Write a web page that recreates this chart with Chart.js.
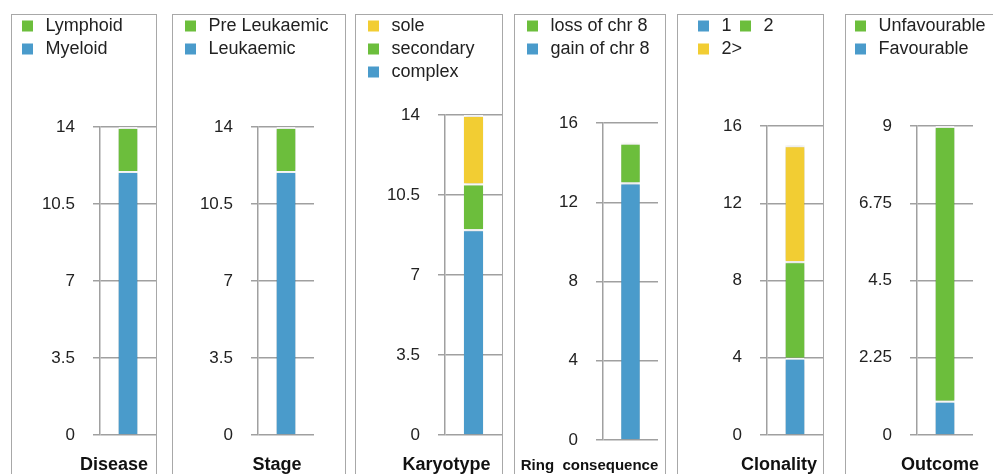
<!DOCTYPE html>
<html><head><meta charset="utf-8">
<script src="https://cdn.jsdelivr.net/npm/chart.js@4.4.1/dist/chart.umd.min.js"></script>
<style>
html,body{margin:0;padding:0;background:#fff;overflow:hidden;width:993px;height:474px;}
.panel{position:absolute;top:14px;height:480px;border:1.5px solid #a8a8a8;box-sizing:border-box;}
canvas{position:absolute;top:0;}
</style></head><body>
<script>
// ---------- data ----------
const diseaseCategories = ['Disease'];
const diseaseSeries = ['Myeloid', 'Lymphoid'];
const diseaseMyeloid = [12];
const diseaseLymphoid = [2];

const stageCategories = ['Stage'];
const stageSeries = ['Leukaemic', 'Pre Leukaemic'];
const stageLeukaemic = [12];
const stagePreLeukaemic = [2];

const karyotypeCategories = ['Karyotype'];
const karyotypeSeries = ['complex', 'secondary', 'sole'];
const karyotypeComplex = [9];
const karyotypeSecondary = [2];
const karyotypeSole = [3];

const ringCategories = ['Ring  consequence'];
const ringSeries = ['gain of chr 8', 'loss of chr 8'];
const ringGain = [13];
const ringLoss = [2];

const clonalityCategories = ['Clonality'];
const clonalitySeries = ['1', '2', '2>'];
const clonality1 = [4];
const clonality2 = [5];
const clonalityMore = [6];

const outcomeCategories = ['Outcome'];
const outcomeSeries = ['Favourable', 'Unfavourable'];
const outcomeFavourable = [1];
const outcomeUnfavourable = [8];

const ticks14 = [0, 3.5, 7, 10.5, 14];
const ticks14Labels = ['0', '3.5', '7', '10.5', '14'];
const ticks16 = [0, 4, 8, 12, 16];
const ticks16Labels = ['0', '4', '8', '12', '16'];
const ticks9 = [0, 2.25, 4.5, 6.75, 9];
const ticks9Labels = ['0', '2.25', '4.5', '6.75', '9'];

// ---------- style ----------
const GREEN = '#6cbe3c', BLUE = '#4a9bcb', YELLOW = '#f2cd33';
const FONT = "'Liberation Sans', Arial, Helvetica, sans-serif";
const GRID = '#a0a0a0';

const panels = [
  {cats: diseaseCategories, names: diseaseSeries, values: [diseaseMyeloid, diseaseLymphoid], colors: [BLUE, GREEN], reverse: true,
   ticks: ticks14, tickLabels: ticks14Labels,
   Lp: 11, Rp: 156, axisX: 100, plotR: 156, top: 127, bottom: 435, rows: 2, padL: 2.5, off: -14, tsize: 18, T: 19},
  {cats: stageCategories, names: stageSeries, values: [stageLeukaemic, stagePreLeukaemic], colors: [BLUE, GREEN], reverse: true,
   ticks: ticks14, tickLabels: ticks14Labels,
   Lp: 172, Rp: 345, axisX: 258, plotR: 314, top: 127, bottom: 435, rows: 2, padL: 4.5, off: -9, tsize: 18, T: 19},
  {cats: karyotypeCategories, names: karyotypeSeries, values: [karyotypeComplex, karyotypeSecondary, karyotypeSole], colors: [BLUE, GREEN, YELLOW], reverse: true,
   ticks: ticks14, tickLabels: ticks14Labels,
   Lp: 355, Rp: 502, axisX: 445, plotR: 502, top: 115, bottom: 435, rows: 3, padL: 4.5, off: -27, tsize: 18, T: 19},
  {cats: ringCategories, names: ringSeries, values: [ringGain, ringLoss], colors: [BLUE, GREEN], reverse: true,
   ticks: ticks16, tickLabels: ticks16Labels,
   Lp: 514, Rp: 665, axisX: 603, plotR: 658, top: 123, bottom: 440, rows: 2, padL: 4.5, off: -41, tsize: 15, T: 17},
  {cats: clonalityCategories, names: clonalitySeries, values: [clonality1, clonality2, clonalityMore], colors: [BLUE, GREEN, YELLOW], reverse: false,
   ticks: ticks16, tickLabels: ticks16Labels,
   Lp: 677, Rp: 823, axisX: 767, plotR: 823, top: 126, bottom: 435, rows: 2, padL: 12.5, off: -16, tsize: 18, T: 19},
  {cats: outcomeCategories, names: outcomeSeries, values: [outcomeFavourable, outcomeUnfavourable], colors: [BLUE, GREEN], reverse: true,
   ticks: ticks9, tickLabels: ticks9Labels,
   Lp: 845, Rp: 993, axisX: 917, plotR: 973, top: 126, bottom: 435, rows: 2, padL: 1.5, off: -5, tsize: 18, T: 19}
];

const barShadow = {
  id: 'barShadow',
  beforeDatasetsDraw(chart) {
    const c = chart.ctx; c.save();
    c.shadowColor = 'rgba(0,0,0,0.30)'; c.shadowBlur = 5; c.shadowOffsetY = 1;
  },
  afterDatasetsDraw(chart) { chart.ctx.restore(); }
};

function legendItems(chart) {
  const items = Chart.defaults.plugins.legend.labels.generateLabels(chart);
  items.forEach(it => { it.lineWidth = 0; it.strokeStyle = 'rgba(0,0,0,0)'; it.pointStyle = 'rect'; });
  return items;
}

panels.forEach(p => {
  const div = document.createElement('div');
  div.className = 'panel';
  div.style.left = p.Lp + 'px';
  div.style.width = (p.Rp === 993 ? 1010 - p.Lp : p.Rp - p.Lp + 1) + 'px';
  document.body.appendChild(div);

  const cv = document.createElement('canvas');
  const W = p.Rp - p.Lp + 1;
  cv.width = W; cv.height = 474;
  cv.style.left = p.Lp + 'px';
  cv.style.width = W + 'px'; cv.style.height = '474px';
  document.body.appendChild(cv);

  const legendTop = 12;
  const legendH = p.rows * 23 + 10;
  const gap = p.top - legendTop - legendH;
  const max = p.ticks[p.ticks.length - 1];

  new Chart(cv, {
    type: 'bar',
    data: {
      labels: p.cats,
      datasets: p.names.map((name, k) => ({
        label: name, data: p.values[k], backgroundColor: p.colors[k],
        borderColor: '#ffffff', borderWidth: {top: 2, right: 0, bottom: 0, left: 0}, borderSkipped: false,
        barPercentage: 0.34, categoryPercentage: 1, xAxisID: 'x', yAxisID: 'y'
      }))
    },
    options: {
      responsive: false, animation: false, devicePixelRatio: 1,
      layout: {padding: {left: p.padL, right: 0, top: legendTop, bottom: 0}},
      plugins: {
        legend: {
          position: 'top', align: 'start', reverse: p.reverse,
          labels: {font: {family: FONT, size: 18}, color: '#222', usePointStyle: true,
                   boxWidth: 18, boxHeight: 11, padding: 5, generateLabels: legendItems}
        },
        tooltip: {enabled: false}
      },
      scales: {
        x: {
          stacked: true, position: 'bottom',
          grid: {display: false, drawTicks: true, tickLength: p.T},
          border: {display: false},
          ticks: {font: {family: FONT, size: p.tsize, weight: 'bold'}, color: '#111', padding: 0,
                  labelOffset: p.off, maxRotation: 0, minRotation: 0, autoSkip: false},
          afterFit(s) { s.height = 474 - p.bottom; s.paddingLeft = 0; s.paddingRight = 0; }
        },
        gap: {
          type: 'category', position: 'top',
          grid: {display: false, drawTicks: false}, border: {display: false}, ticks: {display: false},
          afterFit(s) { s.height = gap; s.paddingLeft = 0; s.paddingRight = 0; }
        },
        y: {
          stacked: true, min: 0, max: max,
          afterBuildTicks(s) { s.ticks = p.ticks.map(v => ({value: v})); },
          ticks: {font: {family: FONT, size: 17}, color: '#222', padding: 18,
                  callback: (v) => p.tickLabels[p.ticks.indexOf(v)]},
          grid: {color: GRID, lineWidth: 1.5, tickLength: 7, drawTicks: true},
          border: {display: true, color: GRID, width: 1.5},
          afterFit(s) { s.width = p.axisX - p.Lp - p.padL; s.paddingTop = 0; s.paddingBottom = 0; }
        },
        rpad: {
          type: 'linear', position: 'right',
          grid: {display: false, drawTicks: false}, border: {display: false}, ticks: {display: false},
          afterFit(s) { s.width = p.Rp - p.plotR + 1; s.paddingTop = 0; s.paddingBottom = 0; }
        }
      }
    },
    plugins: [barShadow]
  });
});
</script>
</body></html>
